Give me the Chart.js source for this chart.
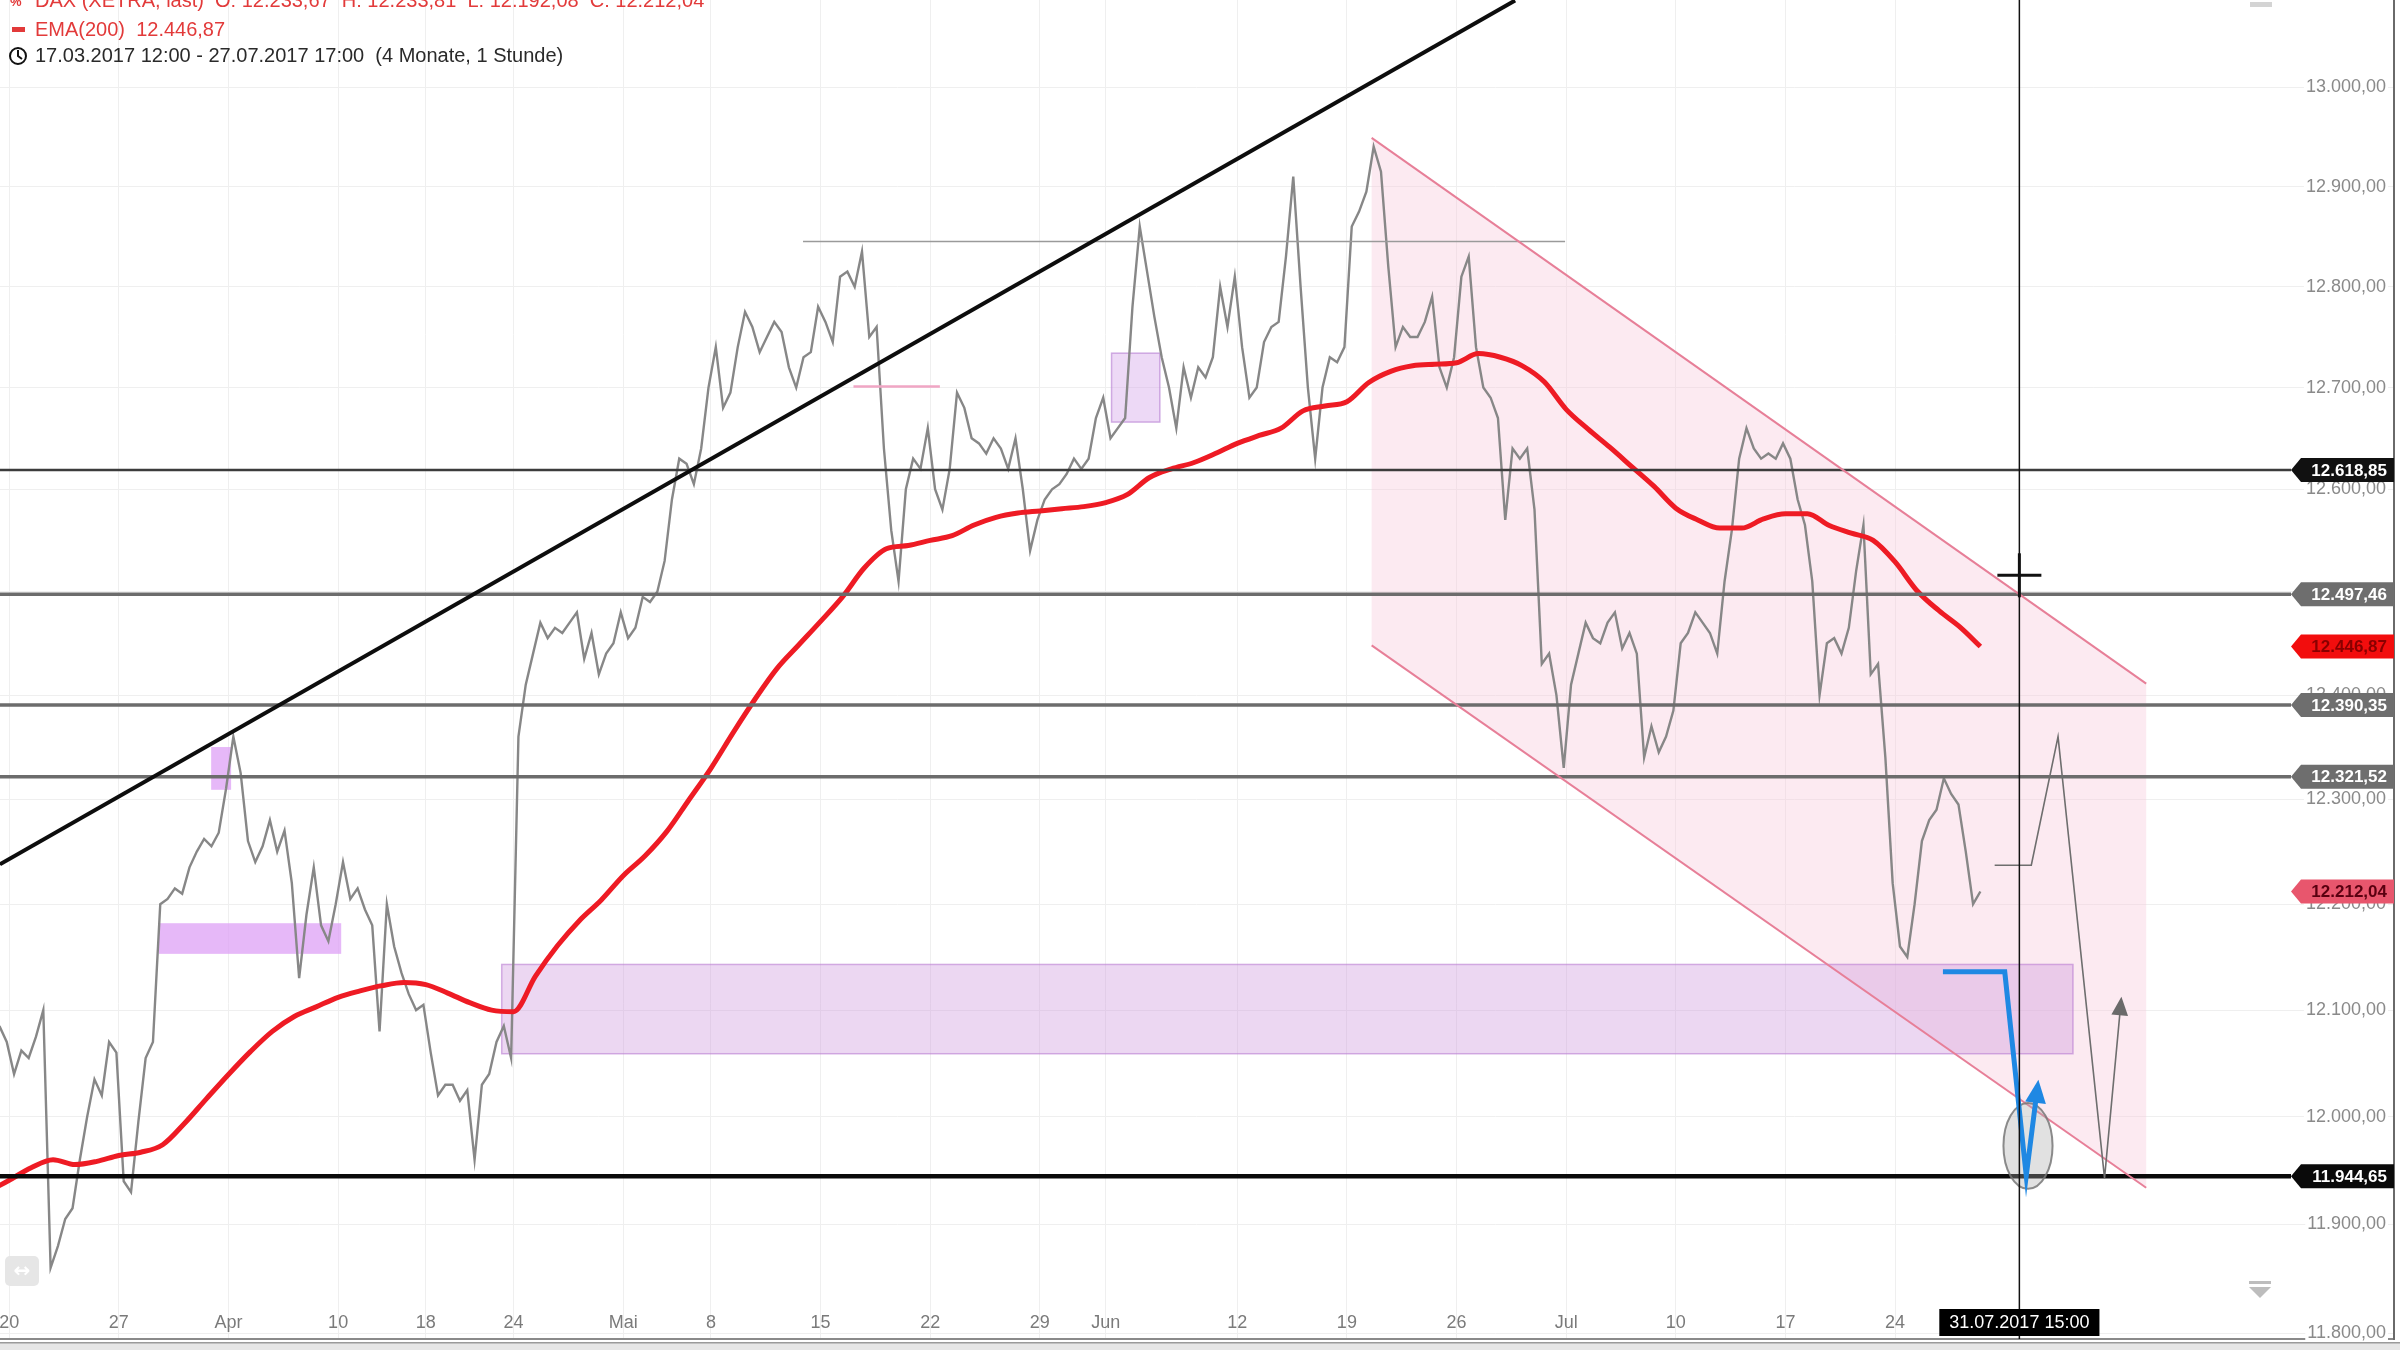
<!DOCTYPE html>
<html>
<head>
<meta charset="utf-8">
<script src="https://cdn.jsdelivr.net/npm/chart.js@4.4.1/dist/chart.umd.min.js"></script>
<style>
html,body{margin:0;padding:0;background:#fff;}
canvas{display:block;}
</style>
</head>
<body>
<canvas id="c" width="2400" height="1350"></canvas>
<script>
// ---------- DATA (x = trading-day index, 20.03.2017 = 0; weekends/holidays removed) ----------
const priceStartDay = -4/9;     // 17.03.2017 14:00
const priceStepDays = 1/3;      // one value per 3 trading hours
const priceValues = [
  12085, 12070,
  12040, 12062, 12055,   12075, 12100, 11860,   11880, 11905, 11915,   11960, 12000, 12035,   12020, 12070, 12060,
  11940, 11930, 11995,   12055, 12070, 12200,   12205, 12215, 12210,   12235, 12250, 12262,   12255, 12268, 12310,
  12360, 12325, 12260,   12240, 12255, 12280,   12250, 12270, 12220,   12130, 12190, 12235,   12180, 12165, 12200,
  12240, 12205, 12215,   12195, 12180, 12080,   12200, 12160, 12135,   12115, 12100, 12105,
  12060, 12020, 12030,   12030, 12015, 12025,   11960, 12030, 12040,   12070, 12085, 12055,
  12360, 12410, 12440,   12470, 12455, 12465,   12460, 12470, 12480,   12435, 12460, 12420,   12440, 12450, 12480,
  12455, 12465, 12495,   12490, 12500, 12530,   12590, 12630, 12625,   12605, 12640, 12700,
  12740, 12680, 12695,   12740, 12775, 12760,   12735, 12750, 12765,   12755, 12720, 12700,   12730, 12735, 12780,
  12765, 12745, 12810,   12815, 12800, 12835,   12750, 12760, 12640,   12560, 12510, 12600,   12630, 12620, 12660,
  12600, 12580, 12620,   12695, 12680, 12650,   12645, 12635, 12650,   12640, 12620, 12650,   12600, 12540, 12570,
  12590, 12600, 12605,   12615, 12630, 12620,   12630, 12670, 12690,   12650, 12660, 12670,   12780, 12860, 12815,
  12770, 12730, 12700,   12660, 12720, 12690,   12720, 12710, 12730,   12800, 12760, 12810,
  12740, 12690, 12700,   12745, 12760, 12765,   12830, 12910, 12800,   12700, 12630, 12700,   12730, 12725, 12740,
  12860, 12875, 12895,   12940, 12915, 12820,   12740, 12760, 12750,   12750, 12765, 12790,   12720, 12700, 12730,
  12810, 12830, 12740,   12700, 12690, 12670,   12570, 12640, 12630,   12640, 12580, 12430,   12440, 12400, 12330,
  12410, 12440, 12470,   12455, 12450, 12470,   12480, 12445, 12460,   12440, 12340, 12370,   12345, 12360, 12385,
  12450, 12460, 12480,   12470, 12460, 12440,   12510, 12560, 12630,   12660, 12640, 12630,   12635, 12630, 12645,
  12630, 12590, 12565,   12510, 12400, 12450,   12455, 12440, 12465,   12520, 12565, 12420,   12430, 12340, 12220,
  12160, 12150, 12200,   12260, 12280, 12290,   12320, 12305, 12295,   12250, 12200, 12212.04
];
const emaStartDay = -1;         // one EMA(200) value per trading day
const emaValues = [
  11930, 11941, 11952.5, 11960, 11955.5, 11958.5, 11964, 11967, 11974, 11994,
  12017, 12039.6, 12061, 12080, 12094, 12103, 12112, 12118, 12123, 12126,
  12124, 12116, 12107, 12100, 12098.5, 12132, 12160.6, 12184.4, 12204, 12227,
  12246, 12269.5, 12299.5, 12329.6, 12363.4, 12395.7, 12425.3, 12448.3, 12471.2, 12495,
  12523.3, 12541.8, 12545, 12550, 12554.6, 12565, 12572.5, 12576.7, 12578.8, 12581,
  12583, 12587, 12595, 12611.5, 12620, 12626, 12635, 12645, 12652.8, 12660,
  12677, 12681.8, 12686, 12705, 12716, 12721.5, 12723, 12724.5, 12733.6, 12730,
  12721.5, 12705.7, 12678.5, 12659, 12641, 12622, 12603, 12581.5, 12570, 12562,
  12562, 12571, 12576, 12576, 12564.5, 12557, 12550, 12529, 12501, 12481.6, 12465
];
const emaLastValue = 12446.87;
const closeValue = 12212.04;

const xTickDays   = [0, 5, 10, 15, 19, 23, 28, 32, 37, 42, 47, 50, 56, 61, 66, 71, 76, 81, 86];
const xTickLabels = ['20', '27', 'Apr', '10', '18', '24', 'Mai', '8', '15', '22', '29', 'Jun', '12', '19', '26', 'Jul', '10', '17', '24'];
const yTickValues = [11800, 11900, 12000, 12100, 12200, 12300, 12400, 12500, 12600, 12700, 12800, 12900, 13000];

const levelValues = [12618.85, 12497.46, 12390.35, 12321.52, 11944.65];
const trendLine = [[-0.42, 12238], [68.67, 13088]];
const channelUpper = [[62.13, 12949], [97.45, 12411]];
const channelLower = [[62.13, 12448], [97.45, 11934]];
const thinResistance = [[36.2, 12845], [70.95, 12845]];
const pinkMark = [[38.5, 12701], [42.44, 12701]];
const zoneBoxes = [[9.21, 10.12, 12309, 12350], [6.83, 15.14, 12153, 12182]];
const lightBox = [50.27, 52.47, 12666, 12734];
const demandZone = [22.46, 94.11, 12059, 12143];
const bluePath = [[88.18, 12136], [91.0, 12136], [91.98, 11945], [92.5, 12029]];
const projectionPath = [[90.54, 12237], [92.21, 12237], [93.43, 12360], [95.55, 11943], [96.3, 12108]];
const targetEllipse = [90.94, 93.18, 11933, 12013];
const crosshairDay = 91 + 6/9;
const crosshairValue = 12516;
const crosshairLabel = '31.07.2017 15:00';

const legendLine1 = 'DAX (XETRA, last)  O: 12.233,67  H: 12.233,81  L: 12.192,08  C: 12.212,04';
const legendLine2 = 'EMA(200)  12.446,87';
const legendLine3 = '17.03.2017 12:00 - 27.07.2017 17:00  (4 Monate, 1 Stunde)';

// ---------- helpers ----------
function fmtDE(v) {
  const s = Number(v).toFixed(2).split('.');
  return s[0].replace(/\B(?=(\d{3})+(?!\d))/g, '.') + ',' + s[1];
}
const FONT = '"Liberation Sans", Arial, sans-serif';

const levelStyles = [
  {line: '#3c3c3c', width: 2.5, tag: '#111111', text: '#ffffff'},
  {line: '#6c6c6c', width: 3.5, tag: '#6e6e6e', text: '#ffffff'},
  {line: '#6c6c6c', width: 3.5, tag: '#6e6e6e', text: '#ffffff'},
  {line: '#6c6c6c', width: 3.5, tag: '#6e6e6e', text: '#ffffff'},
  {line: '#0a0a0a', width: 4.5, tag: '#0a0a0a', text: '#ffffff'}
];

function arrowHead(ctx, x0, y0, x1, y1, size, color) {
  const ang = Math.atan2(y1 - y0, x1 - x0);
  ctx.save();
  ctx.fillStyle = color;
  ctx.beginPath();
  ctx.moveTo(x1 + Math.cos(ang) * size * 0.3, y1 + Math.sin(ang) * size * 0.3);
  ctx.lineTo(x1 - Math.cos(ang - 0.55) * size, y1 - Math.sin(ang - 0.55) * size);
  ctx.lineTo(x1 - Math.cos(ang + 0.55) * size, y1 - Math.sin(ang + 0.55) * size);
  ctx.closePath();
  ctx.fill();
  ctx.restore();
}

function noPad(s) { s.paddingLeft = 0; s.paddingRight = 0; s.paddingTop = 0; s.paddingBottom = 0; }

const overlay = {
  id: 'overlay',
  beforeDatasetsDraw(chart) {
    const {ctx, chartArea: a, scales: {x, y}} = chart;
    const X = d => x.getPixelForValue(d), Y = v => y.getPixelForValue(v);
    ctx.save();
    ctx.beginPath(); ctx.rect(a.left, a.top, a.right - a.left, a.bottom - a.top); ctx.clip();
    // channel fill
    ctx.fillStyle = 'rgba(248,200,218,0.38)';
    ctx.beginPath();
    ctx.moveTo(X(channelUpper[0][0]), Y(channelUpper[0][1]));
    ctx.lineTo(X(channelUpper[1][0]), Y(channelUpper[1][1]));
    ctx.lineTo(X(channelLower[1][0]), Y(channelLower[1][1]));
    ctx.lineTo(X(channelLower[0][0]), Y(channelLower[0][1]));
    ctx.closePath(); ctx.fill();
    // violet zone boxes
    ctx.fillStyle = 'rgba(222,160,246,0.75)';
    zoneBoxes.forEach(b => {
      ctx.fillRect(X(b[0]), Y(b[3]), X(b[1]) - X(b[0]), Y(b[2]) - Y(b[3]));
    });
    // light box
    ctx.fillStyle = 'rgba(214,170,236,0.45)';
    ctx.strokeStyle = 'rgba(190,140,215,0.7)'; ctx.lineWidth = 1.5;
    ctx.fillRect(X(lightBox[0]), Y(lightBox[3]), X(lightBox[1]) - X(lightBox[0]), Y(lightBox[2]) - Y(lightBox[3]));
    ctx.strokeRect(X(lightBox[0]), Y(lightBox[3]), X(lightBox[1]) - X(lightBox[0]), Y(lightBox[2]) - Y(lightBox[3]));
    // demand zone
    ctx.fillStyle = 'rgba(205,150,222,0.38)';
    ctx.strokeStyle = 'rgba(185,125,210,0.6)';
    ctx.fillRect(X(demandZone[0]), Y(demandZone[3]), X(demandZone[1]) - X(demandZone[0]), Y(demandZone[2]) - Y(demandZone[3]));
    ctx.strokeRect(X(demandZone[0]), Y(demandZone[3]), X(demandZone[1]) - X(demandZone[0]), Y(demandZone[2]) - Y(demandZone[3]));
    ctx.restore();
  },
  afterDatasetsDraw(chart) {
    const {ctx, chartArea: a, scales: {x, y}} = chart;
    const X = d => x.getPixelForValue(d), Y = v => y.getPixelForValue(v);
    const tagTip = a.right - 103;
    ctx.save();
    ctx.beginPath(); ctx.rect(a.left, a.top, a.right - a.left, a.bottom - a.top); ctx.clip();
    ctx.lineCap = 'butt';
    // horizontal levels
    levelValues.forEach((v, i) => {
      const st = levelStyles[i];
      ctx.strokeStyle = st.line; ctx.lineWidth = st.width;
      ctx.beginPath(); ctx.moveTo(a.left, Y(v)); ctx.lineTo(tagTip, Y(v)); ctx.stroke();
    });
    // thin resistance and pink mark
    ctx.strokeStyle = '#9a9a9a'; ctx.lineWidth = 1.5;
    ctx.beginPath(); ctx.moveTo(X(thinResistance[0][0]), Y(thinResistance[0][1])); ctx.lineTo(X(thinResistance[1][0]), Y(thinResistance[1][1])); ctx.stroke();
    ctx.strokeStyle = '#f0a6c4'; ctx.lineWidth = 2.5;
    ctx.beginPath(); ctx.moveTo(X(pinkMark[0][0]), Y(pinkMark[0][1])); ctx.lineTo(X(pinkMark[1][0]), Y(pinkMark[1][1])); ctx.stroke();
    // trend line
    ctx.strokeStyle = '#0d0d0d'; ctx.lineWidth = 4;
    ctx.beginPath(); ctx.moveTo(X(trendLine[0][0]), Y(trendLine[0][1])); ctx.lineTo(X(trendLine[1][0]), Y(trendLine[1][1])); ctx.stroke();
    // channel lines
    ctx.strokeStyle = '#e77f98'; ctx.lineWidth = 2;
    [channelUpper, channelLower].forEach(l => {
      ctx.beginPath(); ctx.moveTo(X(l[0][0]), Y(l[0][1])); ctx.lineTo(X(l[1][0]), Y(l[1][1])); ctx.stroke();
    });
    // ellipse
    const ex = (X(targetEllipse[0]) + X(targetEllipse[1])) / 2, ey = (Y(targetEllipse[2]) + Y(targetEllipse[3])) / 2;
    const erx = (X(targetEllipse[1]) - X(targetEllipse[0])) / 2, ery = (Y(targetEllipse[2]) - Y(targetEllipse[3])) / 2;
    ctx.fillStyle = 'rgba(170,170,170,0.35)'; ctx.strokeStyle = 'rgba(120,120,120,0.85)'; ctx.lineWidth = 2;
    ctx.beginPath(); ctx.ellipse(ex, ey, erx, ery, 0, 0, Math.PI * 2); ctx.fill(); ctx.stroke();
    // projection path
    ctx.strokeStyle = '#6e6e6e'; ctx.lineWidth = 1.6; ctx.lineJoin = 'miter';
    ctx.beginPath();
    projectionPath.forEach((p, i) => i ? ctx.lineTo(X(p[0]), Y(p[1])) : ctx.moveTo(X(p[0]), Y(p[1])));
    ctx.stroke();
    const pn = projectionPath.length;
    arrowHead(ctx, X(projectionPath[pn - 2][0]), Y(projectionPath[pn - 2][1]), X(projectionPath[pn - 1][0]), Y(projectionPath[pn - 1][1]), 16, '#6a6a6a');
    // blue path
    ctx.strokeStyle = '#1f88e3'; ctx.lineWidth = 5; ctx.lineJoin = 'miter';
    ctx.beginPath();
    bluePath.forEach((p, i) => i ? ctx.lineTo(X(p[0]), Y(p[1])) : ctx.moveTo(X(p[0]), Y(p[1])));
    ctx.stroke();
    const bn = bluePath.length;
    arrowHead(ctx, X(bluePath[bn - 2][0]), Y(bluePath[bn - 2][1]), X(bluePath[bn - 1][0]), Y(bluePath[bn - 1][1]), 20, '#1f88e3');
    // crosshair
    const cx = X(crosshairDay), cy = Y(crosshairValue);
    ctx.strokeStyle = '#111'; ctx.lineWidth = 1.5;
    ctx.beginPath(); ctx.moveTo(cx, a.top); ctx.lineTo(cx, a.bottom); ctx.stroke();
    ctx.lineWidth = 3;
    ctx.beginPath(); ctx.moveTo(cx - 22, cy); ctx.lineTo(cx + 22, cy); ctx.stroke();
    ctx.beginPath(); ctx.moveTo(cx, cy - 22); ctx.lineTo(cx, cy + 22); ctx.stroke();
    ctx.restore();
  },
  afterDraw(chart) {
    const {ctx, chartArea: a, scales: {x, y}} = chart;
    const Y = v => y.getPixelForValue(v);
    const tagTip = a.right - 103;
    function tag(v, bg, fg) {
      const yy = Y(v), h = 24;
      ctx.fillStyle = bg;
      ctx.beginPath();
      ctx.moveTo(tagTip, yy);
      ctx.lineTo(tagTip + 10, yy - h / 2);
      ctx.lineTo(a.right, yy - h / 2);
      ctx.lineTo(a.right, yy + h / 2);
      ctx.lineTo(tagTip + 10, yy + h / 2);
      ctx.closePath(); ctx.fill();
      ctx.fillStyle = fg; ctx.font = 'bold 17px ' + FONT;
      ctx.textAlign = 'right'; ctx.textBaseline = 'middle';
      ctx.fillText(fmtDE(v), a.right - 7, yy + 1);
    }
    ctx.save();
    levelValues.forEach((v, i) => tag(v, levelStyles[i].tag, levelStyles[i].text));
    tag(emaLastValue, '#f20d0d', '#8a0000');
    tag(closeValue, '#e8566d', '#5a0010');
    // crosshair date label
    const cx = x.getPixelForValue(crosshairDay);
    ctx.font = '18px ' + FONT;
    const tw = ctx.measureText(crosshairLabel).width;
    ctx.fillStyle = '#000';
    ctx.fillRect(cx - tw / 2 - 10, a.bottom - 30, tw + 20, 27);
    ctx.fillStyle = '#fff'; ctx.textAlign = 'center'; ctx.textBaseline = 'middle';
    ctx.fillText(crosshairLabel, cx, a.bottom - 16);
    // legend lines
    ctx.textAlign = 'left'; ctx.textBaseline = 'alphabetic';
    ctx.font = '20px ' + FONT;
    ctx.fillStyle = '#e23a3a';
    ctx.fillText(legendLine1, 35, 7);
    ctx.font = 'bold 13px ' + FONT; ctx.fillText('%', 10, 6);
    ctx.font = '20px ' + FONT;
    ctx.fillRect(12, 27, 13, 5);
    ctx.textBaseline = 'middle';
    ctx.fillText(legendLine2, 35, 30);
    ctx.fillStyle = '#2a2a2a';
    ctx.fillText(legendLine3, 35, 56);
    // clock icon
    ctx.strokeStyle = '#111'; ctx.lineWidth = 2;
    ctx.beginPath(); ctx.arc(18, 56, 8, 0, Math.PI * 2); ctx.stroke();
    ctx.beginPath(); ctx.moveTo(18, 50); ctx.lineTo(18, 56); ctx.lineTo(22, 59); ctx.stroke();
    // small UI marks
    ctx.fillStyle = '#d4d4d4'; ctx.fillRect(2250, 2, 22, 5);
    ctx.fillStyle = '#bdbdbd';
    ctx.fillRect(2249, 1281, 22, 3);
    ctx.beginPath(); ctx.moveTo(2249, 1287); ctx.lineTo(2271, 1287); ctx.lineTo(2260, 1298); ctx.closePath(); ctx.fill();
    ctx.fillStyle = '#e6e6e6';
    ctx.beginPath(); ctx.roundRect(5, 1256, 34, 30, 5); ctx.fill();
    ctx.fillStyle = '#ffffff'; ctx.font = 'bold 20px "DejaVu Sans", sans-serif'; ctx.textAlign = 'center';
    ctx.fillText('\u2194', 22, 1272);
    // bottom strip
    ctx.fillStyle = '#e6e6e6'; ctx.fillRect(0, a.bottom + 3, 2400, 1350 - a.bottom - 3);
    ctx.fillStyle = '#9a9a9a'; ctx.fillRect(0, a.bottom + 3, 2400, 1.5);
    ctx.restore();
  }
};

const emaPoints = emaValues.map((v, i) => ({x: emaStartDay + i, y: v}));
emaPoints.push({x: priceStartDay + (priceValues.length - 1) * priceStepDays, y: emaLastValue});

new Chart(document.getElementById('c'), {
  type: 'line',
  data: {
    datasets: [
      {label: 'DAX (XETRA, last)', data: priceValues.map((v, i) => ({x: priceStartDay + i * priceStepDays, y: v})),
       borderColor: '#878787', borderWidth: 2.4, pointRadius: 0, tension: 0, order: 2},
      {label: 'EMA(200)', data: emaPoints, borderColor: '#ee1b24', borderWidth: 5, pointRadius: 0,
       cubicInterpolationMode: 'monotone', order: 1}
    ]
  },
  options: {
    responsive: false, animation: false, devicePixelRatio: 1,
    layout: {padding: {left: 0, top: 0, right: 6, bottom: 11}},
    plugins: {legend: {display: false}, tooltip: {enabled: false}},
    scales: {
      x: {
        type: 'linear', min: -0.419, max: 108.75, bounds: 'data', position: 'bottom',
        afterBuildTicks: s => { s.ticks = xTickDays.map(v => ({value: v})); },
        afterFit: s => { s.height = 0; noPad(s); },
        ticks: {autoSkip: false, maxRotation: 0, mirror: true, padding: 5, color: '#7a7a7a',
                font: {size: 18, family: FONT}, callback: (v, i) => xTickLabels[i]},
        grid: {color: '#efefef', lineWidth: 1, drawTicks: false},
        border: {display: true, color: '#8a8a8a', width: 2}
      },
      y: {
        type: 'logarithmic', position: 'right', min: 11794.5, max: 13088.5, bounds: 'data',
        afterBuildTicks: s => { s.ticks = yTickValues.map(v => ({value: v})); },
        afterFit: s => { s.width = 0; noPad(s); },
        ticks: {mirror: true, padding: -8, color: '#8a8a8a', font: {size: 18, family: FONT},
                callback: v => fmtDE(v), showLabelBackdrop: true, backdropColor: '#ffffff', backdropPadding: 2},
        grid: {color: '#efefef', lineWidth: 1, drawTicks: false},
        border: {display: true, color: '#6a6a6a', width: 2}
      }
    }
  },
  plugins: [overlay]
});
</script>
</body>
</html>
